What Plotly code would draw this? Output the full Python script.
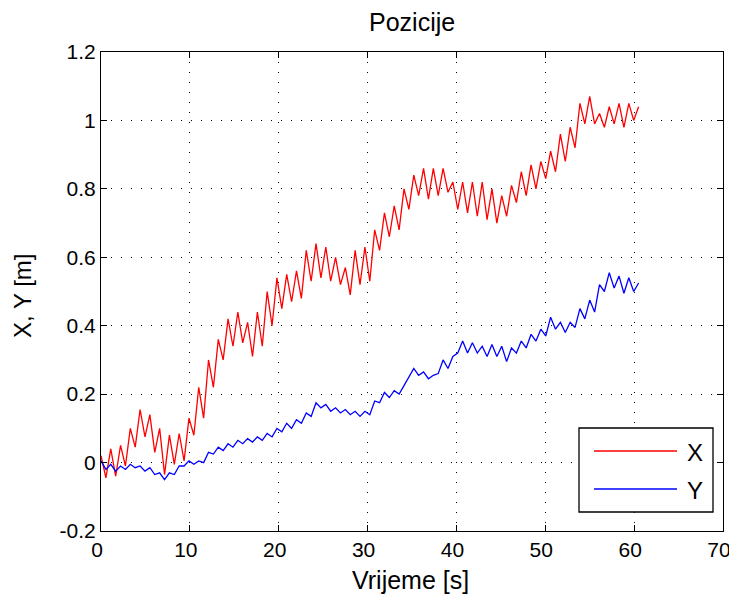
import numpy as np
import plotly.graph_objects as go

# Sampling times (s)
dt = 0.55
x_vals = [
    0.02, -0.045, 0.04, -0.04, 0.05, -0.01, 0.10, 0.045, 0.155, 0.075,
    0.14, 0.03, 0.10, -0.035, 0.08, -0.005, 0.085, 0.005, 0.13, 0.08,
    0.22, 0.13, 0.30, 0.22, 0.36, 0.30, 0.42, 0.34, 0.44, 0.35,
    0.41, 0.31, 0.44, 0.34, 0.50, 0.40, 0.54, 0.45, 0.55, 0.47,
    0.56, 0.48, 0.62, 0.53, 0.64, 0.54, 0.63, 0.53, 0.60, 0.52,
    0.57, 0.49, 0.62, 0.52, 0.63, 0.53, 0.68, 0.62, 0.73, 0.66,
    0.75, 0.68, 0.80, 0.74, 0.84, 0.78, 0.86, 0.77, 0.86, 0.78,
    0.86, 0.79, 0.82, 0.74, 0.82, 0.73, 0.82, 0.72, 0.82, 0.71,
    0.80, 0.70, 0.78, 0.72, 0.81, 0.76, 0.85, 0.78, 0.87, 0.80,
    0.88, 0.83, 0.91, 0.85, 0.96, 0.88, 0.98, 0.92, 1.05, 0.99,
    1.07, 0.99, 1.02, 0.98, 1.04, 0.99, 1.05, 0.98, 1.05, 1.00,
    1.04,
]
y_vals = [
    0.005, -0.02, -0.005, -0.025, -0.01, -0.02, -0.005, -0.015, -0.01, -0.025,
    -0.015, -0.035, -0.03, -0.05, -0.03, -0.035, -0.01, -0.01, 0.005, -0.005,
    0.005, 0.0, 0.03, 0.025, 0.045, 0.035, 0.055, 0.045, 0.065, 0.055,
    0.07, 0.06, 0.075, 0.065, 0.085, 0.075, 0.10, 0.09, 0.115, 0.10,
    0.125, 0.115, 0.145, 0.135, 0.175, 0.16, 0.17, 0.15, 0.16, 0.145,
    0.155, 0.14, 0.15, 0.135, 0.15, 0.14, 0.18, 0.175, 0.205, 0.19,
    0.21, 0.20, 0.225, 0.25, 0.275, 0.255, 0.265, 0.245, 0.255, 0.26,
    0.30, 0.275, 0.31, 0.32, 0.355, 0.32, 0.35, 0.32, 0.34, 0.31,
    0.345, 0.31, 0.34, 0.295, 0.335, 0.32, 0.355, 0.335, 0.375, 0.355,
    0.39, 0.37, 0.425, 0.39, 0.41, 0.38, 0.41, 0.395, 0.45, 0.42,
    0.475, 0.44, 0.52, 0.50, 0.555, 0.51, 0.545, 0.495, 0.54, 0.50,
    0.525,
]
t_vals = np.round(np.arange(len(x_vals)) * dt, 3)

x_ticks = [0, 10, 20, 30, 40, 50, 60, 70]
y_ticks = [-0.2, 0, 0.2, 0.4, 0.6, 0.8, 1, 1.2]
y_tick_text = ["-0.2", "0", "0.2", "0.4", "0.6", "0.8", "1", "1.2"]
series_names = ["X", "Y"]
series_colors = ["#ff0000", "#0000ff"]
title_text = "Pozicije"
x_title = "Vrijeme [s]"
y_title = "X, Y [m]"

FONT = "Liberation Sans, Arial, sans-serif"

fig = go.Figure()
fig.add_trace(go.Scatter(x=t_vals, y=x_vals, mode="lines", name=series_names[0],
                         line=dict(color=series_colors[0], width=1.3), showlegend=False))
fig.add_trace(go.Scatter(x=t_vals, y=y_vals, mode="lines", name=series_names[1],
                         line=dict(color=series_colors[1], width=1.3), showlegend=False))

axis_common = dict(
    showline=True, linecolor="black", linewidth=1, mirror="allticks",
    ticks="inside", ticklen=6, tickcolor="black",
    showgrid=True, gridcolor="black", gridwidth=1, griddash="1px,9px",
    zeroline=False, automargin=False,
    tickfont=dict(family=FONT, size=21, color="black"),
)

fig.update_xaxes(range=[0, 70], tickvals=x_ticks, ticktext=[str(v) for v in x_ticks],
                 ticklabelshift=-4, **axis_common)
fig.update_yaxes(range=[-0.2, 1.2], tickvals=y_ticks, ticktext=y_tick_text, **axis_common)

# page body has an 8px margin: positions below are in screenshot pixels
OFF = 8
L, R, T, B = 101, 723, 52, 531
W, H = 737, 600
def px(xp):
    return (xp - L) / (R - L)
def py(yp):
    return (B - yp) / (B - T)

shapes = [
    dict(type="rect", xref="paper", yref="paper", x0=px(579), x1=px(713), y0=py(512), y1=py(428),
         line=dict(color="black", width=1.3), fillcolor="white", layer="above"),
]
annotations = []
for i, (nm, col) in enumerate(zip(series_names, series_colors)):
    yy = [451, 489][i]
    shapes.append(dict(type="line", xref="paper", yref="paper", x0=px(594), x1=px(677),
                       y0=py(yy), y1=py(yy), line=dict(color=col, width=1.3), layer="above"))
    annotations.append(dict(xref="paper", yref="paper", x=px(685), y=py(yy + 1), text=nm,
                            showarrow=False, xanchor="left", yanchor="middle",
                            font=dict(family=FONT, size=24, color="black")))

annotations.append(dict(xref="paper", yref="paper", x=px((L + R) / 2), y=py(22), text=title_text,
                        showarrow=False, xanchor="center", yanchor="middle",
                        font=dict(family=FONT, size=25, color="black")))
annotations.append(dict(xref="paper", yref="paper", x=px((L + R) / 2 - 2), y=py(580), text=x_title,
                        showarrow=False, xanchor="center", yanchor="middle",
                        font=dict(family=FONT, size=25, color="black")))
annotations.append(dict(xref="paper", yref="paper", x=px(22), y=py(296), text=y_title,
                        showarrow=False, xanchor="center", yanchor="middle", textangle=-90,
                        font=dict(family=FONT, size=24, color="black")))

fig.update_layout(
    width=W, height=H,
    margin=dict(l=L - OFF, r=W - R + OFF, t=T - OFF, b=H - B + OFF),
    paper_bgcolor="white", plot_bgcolor="white",
    shapes=shapes, annotations=annotations,
    showlegend=False,
)

fig.write_html("out.html")
